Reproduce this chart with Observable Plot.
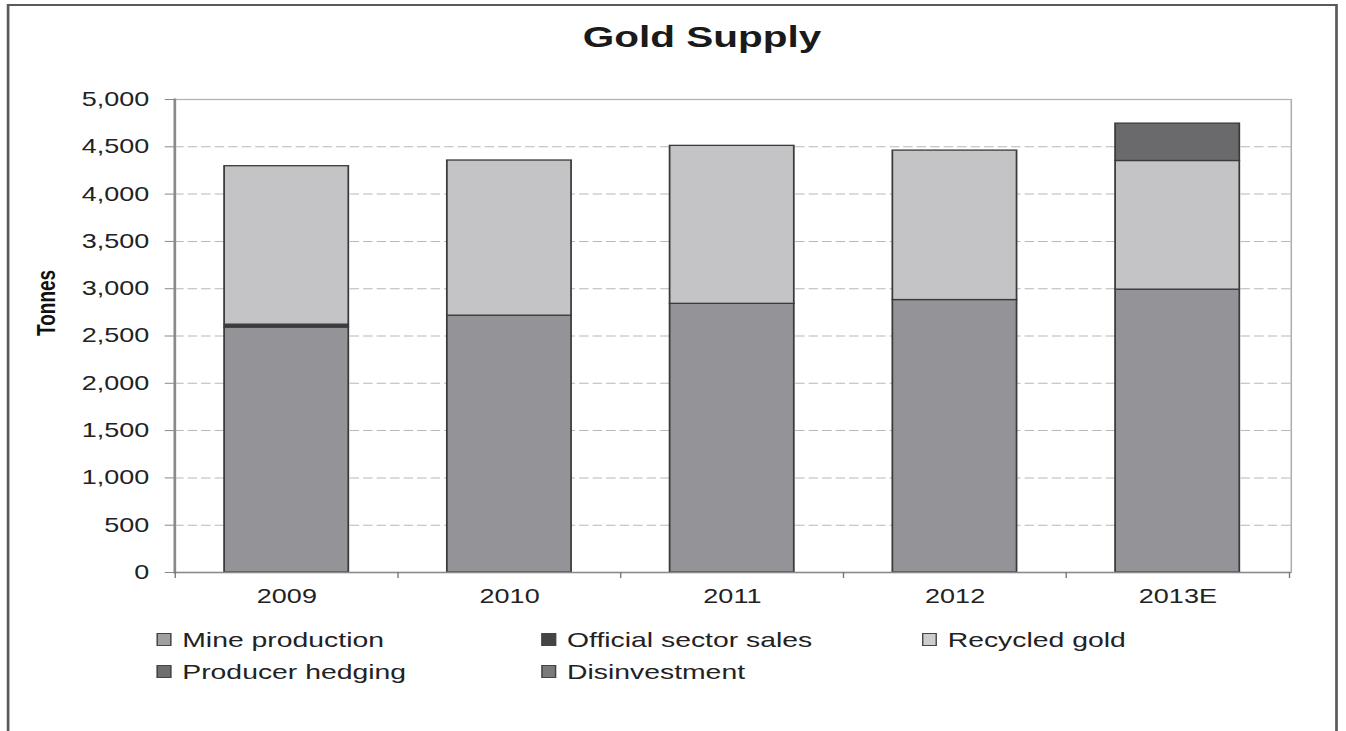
<!DOCTYPE html>
<html>
<head>
<meta charset="utf-8">
<script src="https://cdn.jsdelivr.net/npm/d3@7"></script>
<script src="https://cdn.jsdelivr.net/npm/@observablehq/plot@0.6"></script>
<style>
  html, body { margin: 0; padding: 0; background: #fff; }
  body { width: 1346px; height: 731px; overflow: hidden; position: relative; font-family: "Liberation Sans", Arial, sans-serif; color: #1e1e1e; }
  #wrap { position: absolute; left: 0; top: 0; width: 997px; height: 731px; transform: scaleX(1.35); transform-origin: 0 0; }
  #border { position: absolute; left: 5px; top: 4px; width: 986px; height: 800px; border: 2px solid #5a5a5a; box-sizing: border-box; }
  #title { position: absolute; left: 0; top: 22px; width: 1040px; text-align: center; font-size: 30px; line-height: 30px; font-weight: bold; color: #1a1a1a; }
  #chart { position: absolute; left: 0; top: 79px; }
  #legend { position: absolute; left: 116px; top: 629px; display: grid; grid-template-columns: 285px 282px auto; grid-auto-rows: 32px; }
  .item { display: flex; align-items: center; height: 21px; font-size: 21px; line-height: 21px; color: #222; white-space: nowrap; }
  .sw { width: 9px; height: 11px; border: 1px solid #444; margin-right: 8px; flex: none; }
</style>
</head>
<body>
<div id="wrap">
  <div id="border"></div>
  <div id="title">Gold Supply</div>
  <div id="chart"></div>
  <div id="legend"></div>
</div>
<script>
// ---- data ----
const years = ["2009", "2010", "2011", "2012", "2013E"];
const seriesNames = ["Mine production", "Official sector sales", "Recycled gold", "Producer hedging", "Disinvestment"];
const mineProduction      = [2590, 2715, 2840, 2880, 2990];
const officialSectorSales = [30, 0, 0, 0, 0];
const recycledGold        = [1675, 1640, 1670, 1580, 1360];
const producerHedging     = [0, 0, 0, 0, 0];
const disinvestment       = [0, 0, 0, 0, 395];
const yTicks = [0, 500, 1000, 1500, 2000, 2500, 3000, 3500, 4000, 4500, 5000];
const seriesColors = ["#949498", "#3c3c3c", "#c4c4c6", "#6e6e6e", "#6a6a6c"];
const legendColors = ["#a0a0a4", "#444444", "#cdcdcf", "#6e6e6e", "#7a7a7a"];
const yLabel = "Tonnes";

// ---- build table ----
const seriesValues = [mineProduction, officialSectorSales, recycledGold, producerHedging, disinvestment];
const table = seriesNames.flatMap((s, si) =>
  years.map((y, i) => ({year: y, series: s, value: seriesValues[si][i]}))
).filter(d => d.value > 0);

// ---- layout ----
const W = 997, H = 533, mL = 129, mR = 41, mT = 20, mB = 40;
const step = (W - mL - mR) / years.length;

const chart = Plot.plot({
  width: W,
  height: H,
  marginLeft: mL,
  marginRight: mR,
  marginTop: mT,
  marginBottom: mB,
  style: {fontFamily: "'Liberation Sans', Arial, sans-serif", fontSize: "20px", color: "#222", background: "transparent"},
  x: {domain: years, paddingInner: 0.44, paddingOuter: 0.22, label: null},
  y: {domain: [0, 5000], label: null},
  color: {domain: seriesNames, range: seriesColors},
  marks: [
    Plot.gridY(yTicks, {stroke: "#b8b8b8", strokeOpacity: 1, strokeDasharray: "7,3"}),
    Plot.frame({stroke: "#b0b0b0", strokeWidth: 1.2}),
    Plot.barY(table, {x: "year", y: "value", fill: "series", stroke: "#3a3a3a", strokeWidth: 1.3}),
    Plot.ruleY([0], {stroke: "#8a8a8a", strokeWidth: 1.5}),
    Plot.frame({anchor: "left", stroke: "#8a8a8a", strokeWidth: 2}),
    Plot.ruleX(years, {x: d => d, y1: 0, y2: 0, dx: -step / 2, insetBottom: -6, stroke: "#777", strokeWidth: 1}),
    Plot.ruleX(years.slice(-1), {x: d => d, y1: 0, y2: 0, dx: step / 2, insetBottom: -6, stroke: "#777", strokeWidth: 1}),
    Plot.axisY(yTicks, {tickSize: 7, tickPadding: 12, tickFormat: d3.format(","), stroke: "#888", fontSize: 20, fill: "#222"}),
    Plot.axisX({tickSize: 0, tickPadding: 16, fontSize: 20, fill: "#222"}),
    Plot.text([yLabel], {frameAnchor: "left", dx: -95, rotate: -90, fontWeight: "bold", fontSize: 19, fill: "#111"})
  ]
});
document.getElementById("chart").appendChild(chart);

// ---- legend ----
const legend = document.getElementById("legend");
seriesNames.forEach((name, i) => {
  const item = document.createElement("div");
  item.className = "item";
  const sw = document.createElement("span");
  sw.className = "sw";
  sw.style.background = legendColors[i];
  item.appendChild(sw);
  item.appendChild(document.createTextNode(name));
  legend.appendChild(item);
});
</script>
</body>
</html>
